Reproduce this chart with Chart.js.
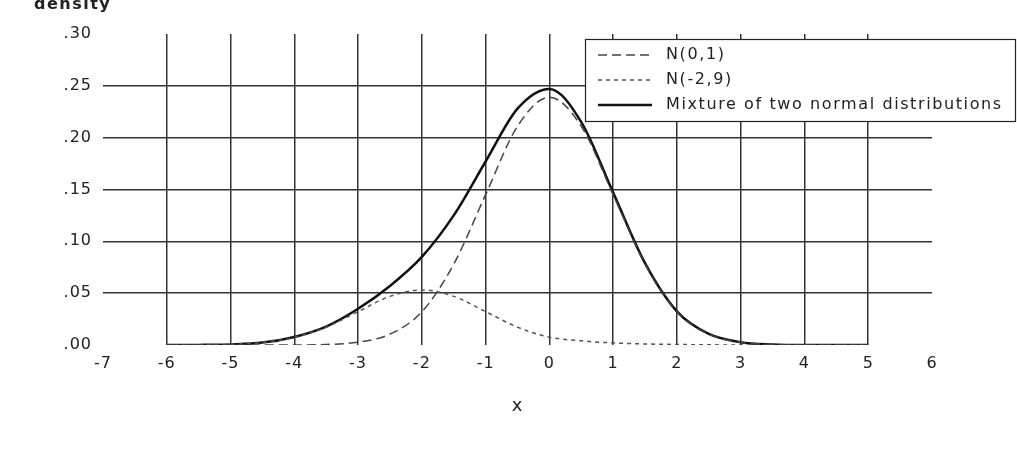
<!DOCTYPE html>
<html>
<head>
<meta charset="utf-8">
<script src="https://cdn.jsdelivr.net/npm/chart.js@4/dist/chart.umd.min.js"></script>
<style>
  html, body { margin: 0; padding: 0; background: #fff; }
  #wrap { width: 1017px; height: 453px; }
</style>
</head>
<body>
<div id="wrap"><canvas id="chart"></canvas></div>
<script>
// values, x step 0.5
var xValues = [-6, -5.5, -5, -4.5, -4, -3.5, -3, -2.5, -2, -1.5, -1, -0.5, 0, 0.5, 1, 1.5, 2, 2.5, 3, 3.5, 4, 4.5, 5];
var normal01 = [0, 0, 0, 0, 0, 0.0005, 0.0027, 0.0105, 0.032, 0.078, 0.145, 0.211, 0.239, 0.211, 0.145, 0.078, 0.032, 0.0105, 0.0027, 0.0005, 0, 0, 0];
var normalM2 = [0, 0.0001, 0.0006, 0.0023, 0.0075, 0.0172, 0.0322, 0.0469, 0.0531, 0.0469, 0.0322, 0.0172, 0.0075, 0.004, 0.002, 0.001, 0.0005, 0.0002, 0, 0, 0, 0, 0];
var mixture = [0, 0.0001, 0.0006, 0.0023, 0.0078, 0.0178, 0.035, 0.057, 0.085, 0.125, 0.177, 0.228, 0.247, 0.215, 0.147, 0.079, 0.0325, 0.0107, 0.0027, 0.0005, 0, 0, 0];
var seriesLabels = ['N(0,1)', 'N(-2,9)', 'Mixture of two normal distributions'];
var yTicks = [0, 0.05, 0.10, 0.15, 0.20, 0.25, 0.30];

function toPoints(arr) {
    return xValues.map(function (x, i) { return { x: x, y: arr[i] }; });
}

var fontFamily = 'DejaVu Sans, Verdana, sans-serif';

// the original text is set a little wide
const wideText = {
    id: 'wideText',
    beforeLayout: function (chart) { chart.ctx.letterSpacing = '1px'; },
    beforeDraw: function (chart) { chart.ctx.letterSpacing = '1px'; }
};

// legend box + axis caption drawn by hand
const boxLegend = {
    id: 'boxLegend',
    afterDraw: function (chart) {
        var ctx = chart.ctx;
        ctx.save();
        ctx.fillStyle = '#fff';
        ctx.fillRect(585, 39, 431, 82);
        ctx.strokeStyle = '#222';
        ctx.lineWidth = 1.2;
        ctx.strokeRect(585.5, 39.5, 430, 82);
        chart.data.datasets.forEach(function (ds, i) {
            var y = 55 + i * 25;
            ctx.beginPath();
            ctx.setLineDash(ds.borderDash || []);
            ctx.strokeStyle = ds.borderColor;
            ctx.lineWidth = ds.borderWidth;
            ctx.moveTo(598, y);
            ctx.lineTo(652, y);
            ctx.stroke();
            ctx.setLineDash([]);
            ctx.fillStyle = '#222';
            ctx.font = '16px ' + fontFamily;
            ctx.letterSpacing = '1.6px';
            ctx.textBaseline = 'middle';
            ctx.textAlign = 'left';
            ctx.fillText(ds.label, 666, y);
        });
        ctx.font = 'bold 16px ' + fontFamily;
        ctx.letterSpacing = '1.5px';
        ctx.fillStyle = '#222';
        ctx.textAlign = 'left';
        ctx.textBaseline = 'middle';
        ctx.fillText('density', 34, 5);
        ctx.restore();
    }
};

new Chart(document.getElementById('chart').getContext('2d'), {
    type: 'line',
    data: {
        datasets: [
            {
                label: seriesLabels[0],
                data: toPoints(normal01),
                borderColor: '#444',
                borderWidth: 1.5,
                borderDash: [9, 5],
            },
            {
                label: seriesLabels[1],
                data: toPoints(normalM2),
                borderColor: '#555',
                borderWidth: 1.5,
                borderDash: [4, 4],
            },
            {
                label: seriesLabels[2],
                data: toPoints(mixture),
                borderColor: '#111',
                borderWidth: 2.5,
            }
        ]
    },
    plugins: [wideText, boxLegend],
    options: {
        responsive: true,
        maintainAspectRatio: false,
        animation: false,
        layout: {
            padding: { top: 34, right: 85, left: 0, bottom: 36 }
        },
        elements: {
            point: { radius: 0 },
            line: { cubicInterpolationMode: 'monotone', fill: false }
        },
        scales: {
            x: {
                type: 'linear',
                min: -7,
                max: 6,
                afterFit: function (scale) { scale.height = 72; },
                ticks: {
                    stepSize: 1,
                    color: '#222',
                    font: { size: 16, family: fontFamily },
                    padding: 9
                },
                border: { display: false },
                grid: {
                    drawTicks: false,
                    lineWidth: 1.5,
                    color: function (context) {
                        var v = context.tick ? context.tick.value : 0;
                        return (v === -7 || v === 6) ? 'rgba(0,0,0,0)' : '#333';
                    }
                },
                title: {
                    display: true,
                    text: 'x',
                    color: '#222',
                    font: { size: 18, family: fontFamily },
                    padding: { top: 20, bottom: 0 }
                }
            },
            y: {
                min: 0,
                max: 0.30,
                afterFit: function (scale) { scale.width = 103; },
                afterBuildTicks: function (scale) {
                    scale.ticks = yTicks.map(function (v) { return { value: v }; });
                },
                ticks: {
                    color: '#222',
                    font: { size: 16, family: fontFamily },
                    padding: 11,
                    callback: function (value) {
                        return value.toFixed(2).replace('0.', '.');
                    }
                },
                border: { display: false },
                grid: {
                    drawTicks: false,
                    lineWidth: 1.5,
                    color: function (context) {
                        var v = context.tick ? context.tick.value : 0;
                        return (v < 0.001 || v > 0.299) ? 'rgba(0,0,0,0)' : '#333';
                    }
                }
            }
        },
        plugins: {
            legend: { display: false },
            tooltip: { enabled: false }
        }
    }
});
</script>
</body>
</html>
